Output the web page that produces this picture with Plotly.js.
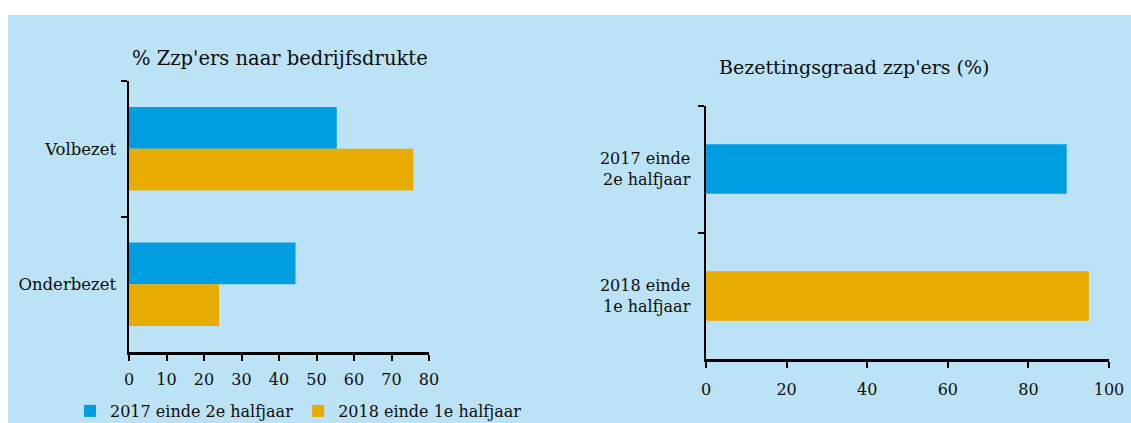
<!DOCTYPE html>
<html>
<head>
<meta charset="utf-8">
<script src="https://cdn.plot.ly/plotly-3.0.1.min.js"></script>
<style>
  html, body { margin: 0; padding: 0; background: #ffffff; overflow: hidden; }
  #chart { position: absolute; left: 8px; top: 15px; width: 1123px; height: 420px; }
</style>
</head>
<body>
<div id="chart"></div>
<script>
// ---- Data ----
const leftCategories = ['Volbezet', 'Onderbezet'];
const seriesNames = ['2017 einde 2e halfjaar', '2018 einde 1e halfjaar'];
const left2017 = [55.4, 44.4];
const left2018 = [75.8, 24.0];

const rightCategories = ['2017 einde<br>2e halfjaar', '2018 einde<br>1e halfjaar'];
const rightValues = [89.5, 95.0];

const leftTitle = "% Zzp'ers naar bedrijfsdrukte";
const rightTitle = "Bezettingsgraad zzp'ers (%)";

// ---- Style ----
const BLUE = '#009ee0';
const ORANGE = '#e8ab00';
const BG = '#bce3f5';
const INK = '#0d0d0d';
const FONT = 'DejaVu Serif, serif';
const H = 420;

const traces = [
  {
    type: 'bar', orientation: 'h', name: seriesNames[0],
    y: leftCategories, x: left2017, xaxis: 'x', yaxis: 'y',
    marker: { color: BLUE }, hoverinfo: 'x+y'
  },
  {
    type: 'bar', orientation: 'h', name: seriesNames[1],
    y: leftCategories, x: left2018, xaxis: 'x', yaxis: 'y',
    marker: { color: ORANGE }, hoverinfo: 'x+y'
  },
  {
    type: 'bar', orientation: 'h', showlegend: false,
    y: rightCategories, x: rightValues, xaxis: 'x2', yaxis: 'y2',
    width: 0.39,
    marker: { color: [BLUE, ORANGE] }, hoverinfo: 'x+y'
  }
];

const axisCommon = {
  showgrid: false, zeroline: false, showline: true,
  linecolor: '#000000', linewidth: 2.5,
  ticks: 'outside', ticklen: 6, tickwidth: 2, tickcolor: '#000000',
  tickfont: { family: FONT, size: 16, color: INK },
  fixedrange: true
};

const layout = {
  width: 1123, height: H,
  margin: { l: 0, r: 0, t: 0, b: 0 },
  paper_bgcolor: BG, plot_bgcolor: BG,
  font: { family: FONT, color: INK },
  barmode: 'group', bargap: 0.385, bargroupgap: 0,
  showlegend: true,
  legend: {
    orientation: 'h', x: 62 / 1123, y: 1 - 396 / H, xanchor: 'left', yanchor: 'middle',
    font: { family: FONT, size: 16, color: INK },
    bgcolor: 'rgba(0,0,0,0)', traceorder: 'normal'
  },
  xaxis: Object.assign({}, axisCommon, {
    domain: [0.10775, 0.37489], anchor: 'y',
    range: [0, 80], dtick: 10, tick0: 0, ticklabelstandoff: 5
  }),
  yaxis: Object.assign({}, axisCommon, {
    domain: [1 - 337 / H, 1 - 66 / H], anchor: 'x',
    type: 'category', range: [1.5, -0.5], tickson: 'boundaries',
    tickfont: { family: FONT, size: 16.5, color: INK }, ticklabelstandoff: 7
  }),
  xaxis2: Object.assign({}, axisCommon, {
    domain: [0.62155, 0.98041], anchor: 'y2',
    range: [0, 100], dtick: 20, tick0: 0, ticklabelstandoff: 8
  }),
  yaxis2: Object.assign({}, axisCommon, {
    domain: [1 - 344.3 / H, 1 - 90.7 / H], anchor: 'x2',
    type: 'category', range: [1.5, -0.5], tickson: 'boundaries',
    tickfont: { family: FONT, size: 16, color: INK }, ticklabelstandoff: 10
  }),
  annotations: [
    {
      text: leftTitle, xref: 'paper', yref: 'paper',
      x: 272 / 1123, y: 1 - 44 / H, xanchor: 'center', yanchor: 'middle',
      showarrow: false, font: { family: FONT, size: 19.5, color: INK }
    },
    {
      text: rightTitle, xref: 'paper', yref: 'paper',
      x: 846 / 1123, y: 1 - 52 / H, xanchor: 'center', yanchor: 'middle',
      showarrow: false, font: { family: FONT, size: 19, color: INK }
    }
  ]
};

Plotly.newPlot('chart', traces, layout, { displayModeBar: false, staticPlot: true });
</script>
</body>
</html>
